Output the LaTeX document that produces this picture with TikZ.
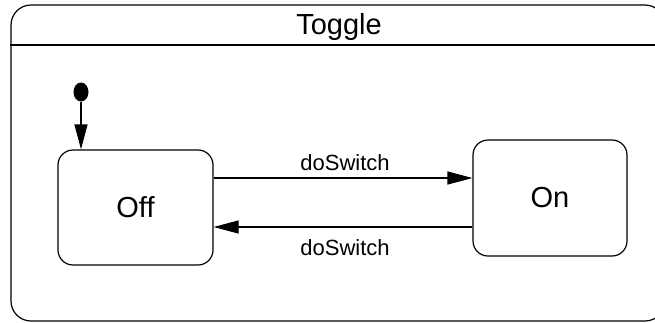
\documentclass[tikz,border=0pt]{standalone}
\usepackage{fontspec}
\setmainfont{Liberation Sans}
\usetikzlibrary{arrows.meta,shapes.geometric}
\begin{document}
\begin{tikzpicture}[x=1pt,y=-1pt,line width=1.2pt,
  bigtext/.style={font=\fontsize{29}{34}\selectfont},
  smalltext/.style={font=\fontsize{22}{26}\selectfont},
  statebox/.style={draw,rounded corners=15pt,inner sep=0pt,bigtext},
  trans/.style={-{Triangle[length=25pt,width=13pt]}},
  initdot/.style={ellipse,fill=black,draw=none,minimum width=15pt,minimum height=19pt,inner sep=0pt}]
\useasboundingbox (0,0) rectangle (655,322);
% composite state frame with its title compartment
\node[draw,rounded corners=20pt,minimum width=654pt,minimum height=316pt,inner sep=0pt] (toggle) at (338,163) {};
\node[bigtext] (title) at (339,27) {Toggle};
\draw (toggle.west |- 0,45) -- (toggle.east |- 0,45);
% substates
\node[statebox,minimum width=155pt,minimum height=115pt] (off) at (135.5,207.5) {Off};
\node[statebox,minimum width=154pt,minimum height=116pt] (on) at (550,198) {On};
% initial pseudostate
\node[initdot] (init) at (81,92) {};
\draw[trans] (init) -- (init |- off.north);
% transitions
\draw[trans] (off.east |- 0,178) -- (on.west |- 0,178);
\draw[trans] (on.west |- 0,227) -- (off.east |- 0,227);
\node[smalltext,anchor=base] (lblup) at (345,170) {doSwitch};
\node[smalltext,anchor=base] (lbldown) at (345,255) {doSwitch};
\end{tikzpicture}
\end{document}
